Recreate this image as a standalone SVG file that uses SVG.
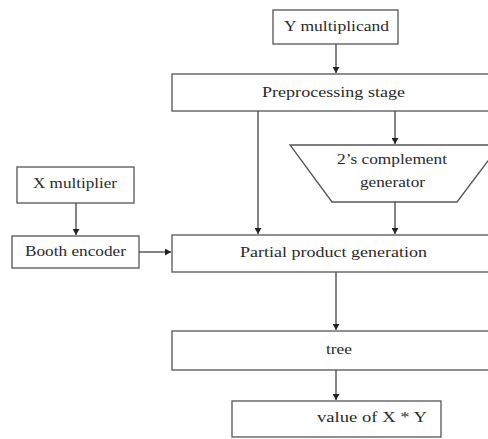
<svg xmlns="http://www.w3.org/2000/svg" width="488" height="439" viewBox="0 0 488 439">
<defs>
<style>
.box{fill:#fff;stroke:#555;stroke-width:1.3}
.lbl{font-family:"Liberation Serif","Times New Roman",serif;font-size:15px;fill:#2a2a2a;text-anchor:middle}
.wire{stroke:#333;stroke-width:1.2;fill:none}
</style>
<marker id="ah" markerWidth="7" markerHeight="7" refX="6" refY="3.5" orient="auto" markerUnits="userSpaceOnUse">
<path d="M0,0 L6,3.5 L0,7 Z" fill="#222"/>
</marker>
</defs>
<rect width="488" height="439" fill="#fff"/>
<g id="connectors">
<line class="wire" x1="336" y1="44" x2="336" y2="73" marker-end="url(#ah)"/>
<line class="wire" x1="258" y1="111" x2="258" y2="234" marker-end="url(#ah)"/>
<line class="wire" x1="395" y1="111" x2="395" y2="144" marker-end="url(#ah)"/>
<line class="wire" x1="395" y1="202" x2="395" y2="234" marker-end="url(#ah)"/>
<line class="wire" x1="76" y1="203" x2="76" y2="235" marker-end="url(#ah)"/>
<line class="wire" x1="139" y1="252" x2="171" y2="252" marker-end="url(#ah)"/>
<line class="wire" x1="336" y1="272" x2="336" y2="330" marker-end="url(#ah)"/>
<line class="wire" x1="336" y1="370" x2="336" y2="400" marker-end="url(#ah)"/>
</g>
<g id="y-multiplicand">
<rect class="box" x="273" y="10" width="125" height="34"/>
<text class="lbl" x="336.5" y="31" textLength="105" lengthAdjust="spacingAndGlyphs">Y multiplicand</text>
</g>
<g id="preprocessing">
<rect class="box" x="172" y="74" width="322" height="37"/>
<text class="lbl" x="333.5" y="97" textLength="143" lengthAdjust="spacingAndGlyphs">Preprocessing stage</text>
</g>
<g id="complement">
<polygon class="box" points="290,145 500,145 457,202 332,202"/>
<text class="lbl" x="392" y="164" textLength="110" lengthAdjust="spacingAndGlyphs">2’s complement</text>
<text class="lbl" x="392.5" y="187" textLength="65" lengthAdjust="spacingAndGlyphs">generator</text>
</g>
<g id="x-multiplier">
<rect class="box" x="17" y="167" width="117" height="36"/>
<text class="lbl" x="75" y="188" textLength="84" lengthAdjust="spacingAndGlyphs">X multiplier</text>
</g>
<g id="booth-encoder">
<rect class="box" x="12" y="236" width="127" height="32"/>
<text class="lbl" x="75.5" y="256" textLength="101" lengthAdjust="spacingAndGlyphs">Booth encoder</text>
</g>
<g id="partial-product">
<rect class="box" x="172" y="235" width="322" height="37"/>
<text class="lbl" x="333.5" y="257" textLength="187" lengthAdjust="spacingAndGlyphs">Partial product generation</text>
</g>
<g id="tree">
<rect class="box" x="172" y="331" width="322" height="39"/>
<text class="lbl" x="339" y="354" textLength="26" lengthAdjust="spacingAndGlyphs">tree</text>
</g>
<g id="result">
<rect class="box" x="232" y="401" width="209" height="36"/>
<text class="lbl" x="372" y="422" textLength="110" lengthAdjust="spacingAndGlyphs">value of X * Y</text>
</g>
</svg>
